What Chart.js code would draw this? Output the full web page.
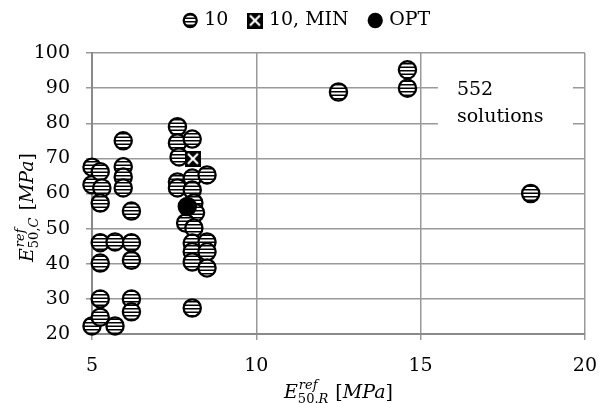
<!DOCTYPE html>
<html>
<head>
<meta charset="utf-8">
<script src="https://cdn.jsdelivr.net/npm/chart.js@4"></script>
<style>
html,body{margin:0;padding:0;background:#fff;}
#wrap{width:599px;height:403px;}
</style>
</head>
<body>
<div id="wrap"><canvas id="c" width="599" height="403"></canvas></div>
<script>
// ---- data ----
const seriesNames = ['10', '10, MIN', 'OPT'];
const x10 = [5.0, 5.0, 5.0, 5.25, 5.3, 5.25, 5.25, 5.25, 5.25, 5.25, 5.7, 5.7,
             5.95, 5.95, 5.95, 5.95, 6.2, 6.2, 6.2, 6.2, 6.2,
             7.6, 7.6, 7.65, 7.6, 7.6, 8.05, 8.05, 8.05, 8.1, 8.15, 7.85, 8.1,
             8.05, 8.05, 8.05, 8.05, 8.5, 8.5, 8.5, 8.5,
             12.5, 14.6, 14.6, 18.35];
const y10 = [22.3, 62.5, 67.5, 66.2, 61.6, 57.3, 46, 40.2, 30, 24.8, 22.3, 46.2,
             75, 67.6, 64.7, 61.6, 55, 46, 41, 30, 26.3,
             79, 74.4, 70.4, 63.3, 61.6, 75.5, 64.4, 61, 57.3, 54.5, 51.6, 50.2,
             45.9, 43.4, 40.5, 27.4, 65.3, 46.2, 43.4, 38.8,
             88.9, 95.2, 90, 60];
const xMin = [8.07];
const yMin = [69.9];
const xOpt = [7.9];
const yOpt = [56.3];
const xTicks = [5, 10, 15, 20];
const yTicks = [20, 30, 40, 50, 60, 70, 80, 90, 100];
const noteLines = ['552', 'solutions'];

const FAM = "'DejaVu Serif', serif";

// ---- marker fills ----
const cvs = document.getElementById('c');
const mainCtx = cvs.getContext('2d');
const pc = document.createElement('canvas');
pc.width = 4; pc.height = 7;
const pg = pc.getContext('2d');
pg.fillStyle = '#fff'; pg.fillRect(0, 0, 4, 7);
pg.fillStyle = '#000'; pg.fillRect(0, 0, 4, 1.5); pg.fillRect(0, 3.5, 4, 1.5);
const stripes = mainCtx.createPattern(pc, 'repeat');

function makeMinIcon(size) {
  const c = document.createElement('canvas');
  c.width = size; c.height = size;
  const g = c.getContext('2d');
  g.fillStyle = '#000'; g.fillRect(0, 0, size, size);
  g.strokeStyle = '#fff'; g.lineWidth = 2.2;
  g.beginPath();
  g.moveTo(3, 3); g.lineTo(size - 3, size - 3);
  g.moveTo(size - 3, 3); g.lineTo(3, size - 3);
  g.stroke();
  return c;
}
const minIcon = makeMinIcon(16);

const toPts = (xs, ys) => xs.map((x, i) => ({x: x, y: ys[i]}));

// ---- titles with sub/superscripts, note box ----
function titleSegments(ctx, subMain, subItalic) {
  const big = 19, small = 13;
  const segs = [];
  let x = 0;
  const add = (t, font, dx, dy) => { segs.push({t, font, x: x + dx, dy}); ctx.font = font; return ctx.measureText(t).width; };
  x += add('E', `italic ${big}px ${FAM}`, 0, 0);
  ctx.font = `italic ${small}px ${FAM}`;
  const wSup = ctx.measureText('ref').width;
  add('ref', `italic ${small}px ${FAM}`, 1, -9);
  ctx.font = `${small}px ${FAM}`;
  const wA = ctx.measureText(subMain).width;
  add(subMain, `${small}px ${FAM}`, 0, 5);
  ctx.font = `italic ${small}px ${FAM}`;
  const wB = ctx.measureText(subItalic).width;
  segs.push({t: subItalic, font: `italic ${small}px ${FAM}`, x: x + wA, dy: 5});
  x += Math.max(wSup + 1, wA + wB) + 1;
  x += add(' [', `${big}px ${FAM}`, 0, 0);
  x += add('MPa', `italic ${big}px ${FAM}`, 0, 0);
  x += add(']', `${big}px ${FAM}`, 0, 0);
  return {segs, width: x};
}
function drawTitle(ctx, cx, baseY, subMain, subItalic, rotate) {
  ctx.save();
  ctx.translate(cx, baseY);
  if (rotate) ctx.rotate(-Math.PI / 2);
  const L = titleSegments(ctx, subMain, subItalic);
  ctx.fillStyle = '#000';
  ctx.textBaseline = 'alphabetic';
  ctx.textAlign = 'left';
  for (const s of L.segs) {
    ctx.font = s.font;
    ctx.fillText(s.t, s.x - L.width / 2, s.dy);
  }
  ctx.restore();
}

const decor = {
  id: 'decor',
  beforeDatasetsDraw(chart) {
    const ctx = chart.ctx;
    const a = chart.chartArea;
    ctx.save();
    ctx.fillStyle = '#fff';
    ctx.fillRect(a.right - 147, a.top + 8, 135, 82);
    ctx.fillStyle = '#000';
    ctx.font = `19px ${FAM}`;
    ctx.textBaseline = 'alphabetic';
    ctx.fillText(noteLines[0], a.right - 128, a.top + 42);
    ctx.fillText(noteLines[1], a.right - 128, a.top + 69);
    ctx.restore();
  },
  afterDraw(chart) {
    const ctx = chart.ctx;
    const a = chart.chartArea;
    drawTitle(ctx, (a.left + a.right) / 2, a.bottom + 64, '50.', 'R', false);
    drawTitle(ctx, a.left - 59, (a.top + a.bottom) / 2 + 14, '50,', 'C', true);
  }
};

new Chart(cvs, {
  type: 'scatter',
  data: {
    datasets: [
      {label: seriesNames[0], data: toPts(x10, y10), order: 3, clip: false,
       pointStyle: 'circle', pointRadius: 8.6, pointBackgroundColor: stripes,
       pointBorderColor: '#000', pointBorderWidth: 2.3},
      {label: seriesNames[1], data: toPts(xMin, yMin), order: 2, clip: false,
       pointStyle: minIcon, pointRadius: 8, pointBackgroundColor: '#000',
       pointBorderColor: '#000', pointBorderWidth: 0},
      {label: seriesNames[2], data: toPts(xOpt, yOpt), order: 1, clip: false,
       pointStyle: 'circle', pointRadius: 8.6, pointBackgroundColor: '#000',
       pointBorderColor: '#000', pointBorderWidth: 2.3}
    ]
  },
  options: {
    responsive: false,
    animation: false,
    events: [],
    layout: {padding: {left: 31, right: 14, top: -11, bottom: 0}},
    plugins: {
      tooltip: {enabled: false},
      title: {display: true, text: '', weight: 500, padding: 0, font: {size: 13, lineHeight: 1}},
      legend: {
        position: 'top',
        labels: {
          usePointStyle: true,
          boxWidth: 9,
          boxHeight: 9.2,
          padding: 22,
          color: '#000',
          font: {family: FAM, size: 19},
          sort: (a, b) => a.datasetIndex - b.datasetIndex
        }
      }
    },
    scales: {
      x: {
        type: 'linear', min: xTicks[0], max: xTicks[xTicks.length - 1],
        afterBuildTicks(s) { s.ticks = xTicks.map(v => ({value: v})); },
        afterFit(s) { s.height = 69; },
        ticks: {color: '#000', font: {family: FAM, size: 19, lineHeight: 2.57}, padding: 2},
        grid: {color: '#999', lineWidth: 1.5, tickLength: 6},
        border: {color: '#8a8a8a', width: 2}
      },
      y: {
        type: 'linear', min: yTicks[0], max: yTicks[yTicks.length - 1],
        afterBuildTicks(s) { s.ticks = yTicks.map(v => ({value: v})); },
        afterFit(s) { s.width = 61; },
        ticks: {color: '#000', font: {family: FAM, size: 19}, padding: 16},
        grid: {color: '#999', lineWidth: 1.5, tickLength: 6},
        border: {color: '#8a8a8a', width: 2}
      }
    }
  },
  plugins: [decor]
});
</script>
</body>
</html>
